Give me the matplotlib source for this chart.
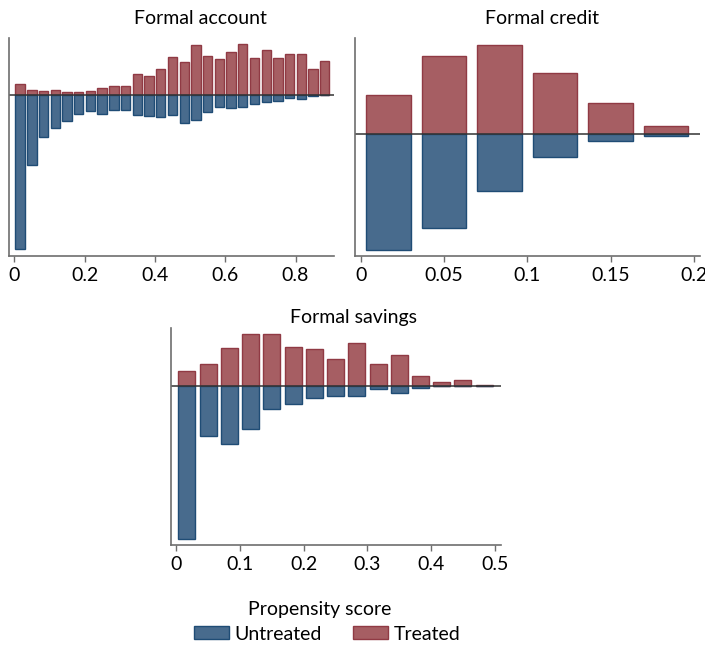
import matplotlib
matplotlib.use('Agg')
import matplotlib.pyplot as plt
import matplotlib.patches as mpatches
import numpy as np

plt.rcParams['font.family'] = ['Lato', 'DejaVu Sans']

# ==========================================
# DATA (bar heights, arbitrary density units)
# ==========================================
BIN = 1.0 / 30

account_treated = [33, 13, 10, 13, 7, 9, 10, 19, 25, 27, 61, 55, 78, 112, 97,
                   148, 115, 108, 128, 152, 110, 135, 110, 121, 121, 76, 102]
account_untreated = [465, 213, 128, 101, 80, 59, 50, 58, 47, 47, 60, 64, 66, 60, 84,
                     75, 53, 36, 40, 36, 29, 23, 18, 11, 12, 4, 1]

credit_treated = [115, 232, 267, 181, 92, 22]
credit_untreated = [350, 283, 172, 70, 21, 7]

savings_treated = [45, 66, 114, 156, 156, 116, 111, 80, 128, 66, 93, 29, 12, 17, 2]
savings_untreated = [458, 151, 173, 130, 70, 55, 37, 31, 31, 10, 22, 7, 1, 0, 1]

account_ticks = [0, 0.2, 0.4, 0.6, 0.8]
account_labels = ['0', '0.2', '0.4', '0.6', '0.8']
credit_ticks = [0, 0.05, 0.1, 0.15, 0.2]
credit_labels = ['0', '0.05', '0.1', '0.15', '0.2']
savings_ticks = [0, 0.1, 0.2, 0.3, 0.4, 0.5]
savings_labels = ['0', '0.1', '0.2', '0.3', '0.4', '0.5']

# ==========================================
# STYLE
# ==========================================
BLUE = '#486b8d'
BLUE_EDGE = '#1f4c75'
RED = '#a65e63'
RED_EDGE = '#903a44'
SPINE = '#6e6e6e'

W, H = 705, 646
fig = plt.figure(figsize=(W / 100, H / 100), dpi=100)


def px_axes(l, r, t, b):
    return fig.add_axes([l / W, 1 - b / H, (r - l) / W, (b - t) / H])


def mirror(ax, treated, untreated, xlim, ylim, ticks, labels):
    x = (np.arange(len(treated)) + 0.5) * BIN
    ax.bar(x, treated, width=BIN * 0.8, color=RED, edgecolor=RED_EDGE, linewidth=1)
    ax.bar(x, [-v for v in untreated], width=BIN * 0.8, color=BLUE,
           edgecolor=BLUE_EDGE, linewidth=1)
    ax.axhline(0, color='#333333', linewidth=1.1)
    ax.set_xlim(*xlim)
    ax.set_ylim(*ylim)
    ax.set_xticks(ticks)
    ax.set_xticklabels(labels)
    ax.set_yticks([])
    for s in ['top', 'right']:
        ax.spines[s].set_visible(False)
    for s in ['left', 'bottom']:
        ax.spines[s].set_color(SPINE)
        ax.spines[s].set_linewidth(1.2)
    ax.tick_params(axis='x', colors=SPINE, length=4, width=1, labelsize=14,
                   labelcolor='black', pad=4)


ax1 = px_axes(9, 334, 38, 256)
mirror(ax1, account_treated, account_untreated, (-0.0151, 0.9095), (-485, 170),
       account_ticks, account_labels)

ax2 = px_axes(355, 700, 38, 256)
mirror(ax2, credit_treated, credit_untreated, (-0.0034, 0.2036), (-368, 287),
       credit_ticks, credit_labels)

ax3 = px_axes(171, 501, 328, 545)
mirror(ax3, savings_treated, savings_untreated, (-0.0083, 0.5097), (-477, 173),
       savings_ticks, savings_labels)

# titles
fig.text(200 / W, 1 - 18 / H, 'Formal account', ha='center', va='center', fontsize=14)
fig.text(542 / W, 1 - 18 / H, 'Formal credit', ha='center', va='center', fontsize=14)
fig.text(354 / W, 1 - 317 / H, 'Formal savings', ha='center', va='center', fontsize=14)

# x title + legend
fig.text(320 / W, 1 - 610 / H, 'Propensity score', ha='center', va='center', fontsize=14)
handles = [mpatches.Patch(facecolor=BLUE, edgecolor=BLUE_EDGE, label='Untreated'),
           mpatches.Patch(facecolor=RED, edgecolor=RED_EDGE, label='Treated')]
fig.legend(handles=handles, loc='center', bbox_to_anchor=(327 / W, 1 - 634 / H),
           ncol=2, frameon=False, fontsize=14, handlelength=1.8, handleheight=0.6,
           handletextpad=0.3, columnspacing=1.6, borderpad=0)

plt.savefig('out.png', dpi=100)
